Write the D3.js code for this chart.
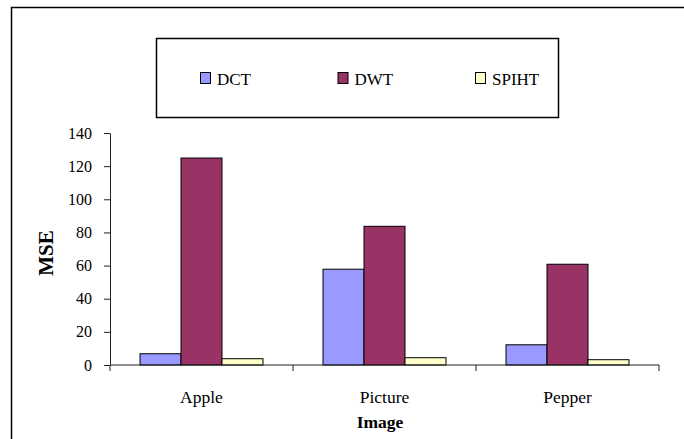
<!DOCTYPE html>
<html>
<head>
<meta charset="utf-8">
<script src="https://d3js.org/d3.v7.min.js"></script>
<style>
  html, body { margin: 0; padding: 0; background: #fff; }
  svg { display: block; }
  text { font-family: "Liberation Serif", "Times New Roman", serif; fill: #000; }
</style>
</head>
<body>
<svg id="chart" width="684" height="439"></svg>
<script>
// Mean squared error of three compression methods on three test images
const categories = ["Apple", "Picture", "Pepper"];
const seriesNames = ["DCT", "DWT", "SPIHT"];
const dctValues = [6.8, 57.8, 12.2];
const dwtValues = [124.9, 83.7, 60.8];
const spihtValues = [3.8, 4.4, 3.2];
const yTicks = [0, 20, 40, 60, 80, 100, 120, 140];
const seriesColors = ["#9999FF", "#993366", "#FFFFCC"];

const seriesValues = [dctValues, dwtValues, spihtValues];
const rows = categories.map((c, i) => ({
  category: c,
  values: seriesNames.map((s, j) => ({ series: s, value: seriesValues[j][i] }))
}));

const svg = d3.select("#chart");
const serif = "'Liberation Serif', 'Times New Roman', serif";

// outer chart frame (right and bottom edges fall outside the canvas)
svg.append("rect")
  .attr("x", 11.5).attr("y", 7.5)
  .attr("width", 700).attr("height", 460)
  .attr("fill", "none").attr("stroke", "#000").attr("stroke-width", 1.5);

const plot = { left: 110, right: 659, top: 133, bottom: 365 };

const x0 = d3.scaleBand().domain(categories).range([plot.left, plot.right]).padding(0);
const bw = x0.bandwidth();
const x1 = d3.scaleBand().domain(seriesNames).range([bw * 0.164, bw * 0.836]).padding(0);
const y = d3.scaleLinear().domain([0, 140]).range([plot.bottom, plot.top]);
const color = d3.scaleOrdinal().domain(seriesNames).range(seriesColors);

// bars
const groups = svg.append("g").selectAll("g").data(rows).join("g")
  .attr("transform", d => `translate(${x0(d.category)},0)`);
groups.selectAll("rect").data(d => d.values).join("rect")
  .attr("x", d => x1(d.series))
  .attr("y", d => y(d.value))
  .attr("width", x1.bandwidth())
  .attr("height", d => y(0) - y(d.value))
  .attr("fill", d => color(d.series))
  .attr("stroke", "#000").attr("stroke-width", 1);

// y axis
const yAxis = svg.append("g")
  .attr("transform", `translate(${plot.left},0)`)
  .attr("font-family", serif)
  .call(d3.axisLeft(y).tickValues(yTicks).tickSize(6).tickPadding(12).tickSizeOuter(0));
yAxis.selectAll("text").style("font-size", "16px").style("font-family", serif).attr("fill", "#000");
yAxis.select(".domain").attr("stroke", "#222");
yAxis.selectAll(".tick line").attr("stroke", "#222");

// x axis with ticks on the category boundaries
const xAxisG = svg.append("g").attr("transform", `translate(0,${plot.bottom})`);
xAxisG.append("line")
  .attr("x1", plot.left).attr("x2", plot.right)
  .attr("stroke", "#222").attr("stroke-width", 1);
const boundaries = categories.map(c => x0(c)).concat([x0(categories[categories.length - 1]) + bw]);
xAxisG.selectAll("line.tick").data(boundaries).join("line")
  .attr("class", "tick")
  .attr("x1", d => d).attr("x2", d => d)
  .attr("y1", 0).attr("y2", 6)
  .attr("stroke", "#222");
xAxisG.selectAll("text").data(categories).join("text")
  .attr("x", d => x0(d) + bw / 2)
  .attr("y", 38)
  .attr("text-anchor", "middle")
  .style("font-size", "17.5px")
  .text(d => d);

// axis titles
svg.append("text")
  .attr("x", 380).attr("y", 428)
  .attr("text-anchor", "middle")
  .style("font-size", "17.5px").style("font-weight", "bold")
  .text("Image");
svg.append("text")
  .attr("transform", "translate(53,253) rotate(-90)")
  .attr("text-anchor", "middle")
  .style("font-size", "21px").style("font-weight", "bold")
  .text("MSE");

// legend
const legend = svg.append("g");
legend.append("rect")
  .attr("x", 156.5).attr("y", 38.5)
  .attr("width", 402).attr("height", 79)
  .attr("fill", "#fff").attr("stroke", "#000").attr("stroke-width", 1.5);
const legendX = d3.scalePoint().domain(seriesNames).range([200, 475]);
const items = legend.selectAll("g.item").data(seriesNames).join("g")
  .attr("class", "item")
  .attr("transform", d => `translate(${legendX(d)},72)`);
items.append("rect")
  .attr("x", 0.5).attr("y", 0.5).attr("width", 10).attr("height", 11)
  .attr("fill", d => color(d)).attr("stroke", "#000").attr("stroke-width", 1);
items.append("text")
  .attr("x", 17).attr("y", 13)
  .style("font-size", "17px")
  .text(d => d);
</script>
</body>
</html>
